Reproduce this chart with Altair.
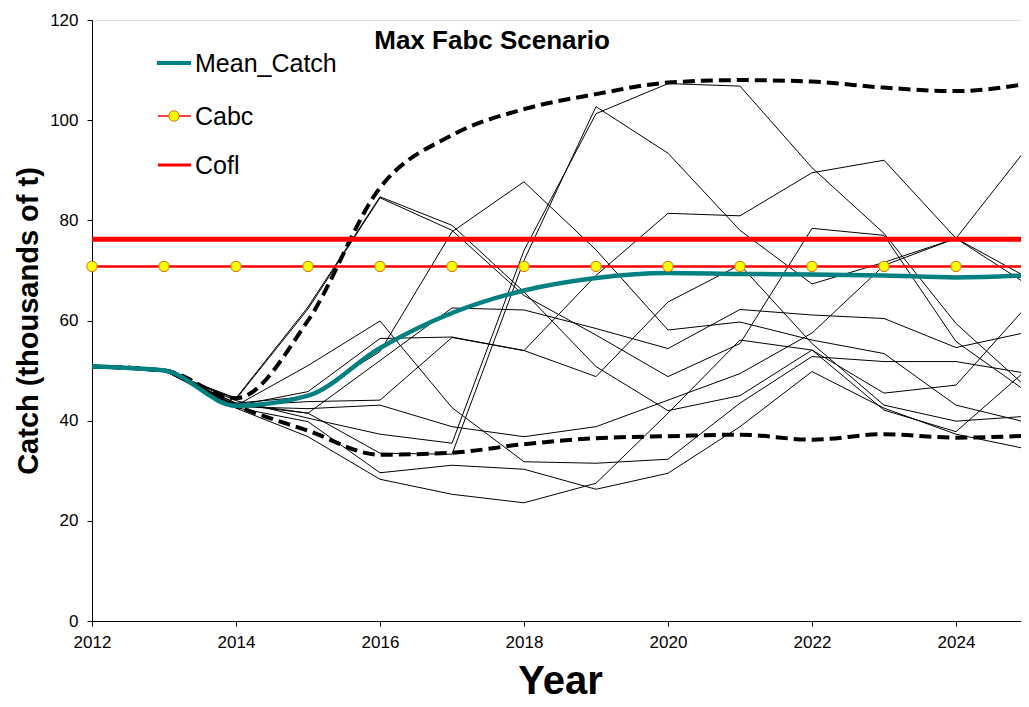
import altair as alt
import pandas as pd

# ---------------- data ----------------
years = list(range(2012, 2026))

traj_01 = [50.8, 50.0, 44.0, 40.5, 37.3, 35.5, 74.0, 101.3, 107.3, 106.8, 90.5, 77.4, 59.4, 46.4]
traj_02 = [50.8, 50.0, 43.5, 41.5, 33.5, 33.3, 72.0, 102.7, 93.4, 78.0, 67.3, 71.6, 76.4, 94.7]
traj_03 = [50.8, 50.0, 43.0, 45.8, 56.4, 56.7, 54.0, 69.0, 81.4, 80.9, 89.5, 92.0, 76.4, 68.5]
traj_04 = [50.8, 50.0, 43.5, 44.8, 53.8, 77.7, 87.7, 74.1, 58.1, 59.7, 56.1, 53.4, 43.1, 39.6]
traj_05 = [50.8, 50.0, 44.5, 62.7, 84.7, 79.0, 65.7, 50.8, 42.0, 45.0, 54.1, 45.5, 47.1, 63.1]
traj_06 = [50.8, 50.0, 44.3, 62.3, 84.5, 78.0, 65.0, 57.1, 48.8, 55.4, 78.4, 77.0, 55.8, 45.6]
traj_07 = [50.8, 50.0, 43.0, 51.0, 59.9, 42.6, 31.8, 31.5, 32.3, 43.5, 52.8, 51.8, 51.8, 49.4]
traj_08 = [50.8, 50.0, 43.0, 43.8, 44.1, 56.6, 54.0, 48.8, 63.7, 71.1, 55.4, 43.1, 39.9, 40.9]
traj_09 = [50.8, 50.0, 42.8, 42.4, 43.1, 38.8, 36.8, 38.8, 44.1, 49.4, 57.5, 71.0, 76.4, 67.1]
traj_10 = [50.8, 50.0, 42.6, 39.8, 29.6, 31.1, 30.3, 26.3, 29.5, 38.8, 49.8, 42.5, 37.3, 34.3]
traj_11 = [50.8, 50.0, 42.5, 36.8, 28.3, 25.3, 23.6, 27.5, 41.5, 56.1, 54.1, 42.1, 37.8, 50.4]
traj_12 = [50.8, 50.0, 43.2, 41.5, 52.0, 62.5, 62.1, 58.4, 54.4, 62.2, 61.1, 60.4, 54.6, 57.7]

mean_catch = [50.8, 50.0, 43.0, 45.0, 54.5, 61.5, 66.0, 68.5, 69.5, 69.3, 69.2, 69.0, 68.6, 69.0]
upper_bound = [50.8, 50.0, 44.5, 60.0, 86.5, 97.0, 102.2, 105.2, 107.5, 108.0, 107.7, 106.5, 105.8, 107.3]
lower_bound = [50.8, 50.0, 43.0, 38.0, 33.2, 33.6, 35.3, 36.5, 36.9, 37.2, 36.2, 37.3, 36.6, 37.0]

cabc_value = 70.8
cofl_value = 76.2

x_tick_values = [2012, 2014, 2016, 2018, 2020, 2022, 2024]
y_tick_values = [0, 20, 40, 60, 80, 100, 120]

legend_labels = ["Mean_Catch", "Cabc", "Cofl"]
chart_title = "Max Fabc Scenario"

# ---------------- tables ----------------
trajs = [traj_01, traj_02, traj_03, traj_04, traj_05, traj_06,
         traj_07, traj_08, traj_09, traj_10, traj_11, traj_12]
rows = []
for i, t in enumerate(trajs):
    for y, v in zip(years, t):
        rows.append({"year": y, "catch": v, "sim": f"s{i+1}"})
traj_df = pd.DataFrame(rows)

bounds_df = pd.DataFrame(
    [{"year": y, "catch": v, "which": "upper"} for y, v in zip(years, upper_bound)]
    + [{"year": y, "catch": v, "which": "lower"} for y, v in zip(years, lower_bound)]
)
mean_df = pd.DataFrame({"year": years, "catch": mean_catch})
ref_df = pd.DataFrame({"year": years,
                       "cabc": [cabc_value] * len(years),
                       "cofl": [cofl_value] * len(years)})

FONT = "Arial, Liberation Sans"

xscale = alt.Scale(domain=[2012, 2025], nice=False, zero=False)
yscale = alt.Scale(domain=[0, 120], nice=False)

xenc = alt.X("year:Q", scale=xscale,
             axis=alt.Axis(values=x_tick_values, format="d", title="Year",
                           titleFontSize=40, titleFontWeight="bold", titlePadding=11,
                           labelFontSize=17, labelPadding=8, tickSize=5,
                           grid=False, domainColor="black", tickColor="black",
                           labelColor="black", titleColor="black",
                           labelFont=FONT, titleFont=FONT, labelFlush=False))
yaxis = alt.Axis(values=y_tick_values, title="Catch (thousands of t)",
                 titleFontSize=29, titleFontWeight="bold", titlePadding=6,
                 labelFontSize=17, labelPadding=9, tickSize=5,
                 grid=False, domainColor="black", tickColor="black",
                 labelColor="black", titleColor="black",
                 labelFont=FONT, titleFont=FONT)

thin = alt.Chart(traj_df).mark_line(color="black", strokeWidth=1).encode(
    x=xenc,
    y=alt.Y("catch:Q", scale=yscale, axis=yaxis),
    detail="sim:N",
)

dashed = alt.Chart(bounds_df).mark_line(
    color="black", strokeWidth=4, strokeDash=[12, 6], interpolate="monotone"
).encode(x="year:Q", y="catch:Q", detail="which:N")

mean_line = alt.Chart(mean_df).mark_line(
    color="#008080", strokeWidth=4.5, interpolate="monotone"
).encode(x="year:Q", y="catch:Q")

cofl_line = alt.Chart(ref_df).mark_line(color="#ff0000", strokeWidth=5).encode(
    x="year:Q", y="cofl:Q")
cabc_line = alt.Chart(ref_df).mark_line(color="#ff0000", strokeWidth=2.5).encode(
    x="year:Q", y="cabc:Q")
cabc_pts = alt.Chart(ref_df).mark_point(
    shape="circle", filled=True, fill="#ffff00", stroke="#d2691e",
    strokeWidth=1, size=110, opacity=1
).encode(x="year:Q", y="cabc:Q")

# ---------------- legend (manual) ----------------
leg_mean = pd.DataFrame({"label": [legend_labels[0]]})
leg_cabc = pd.DataFrame({"label": [legend_labels[1]]})
leg_cofl = pd.DataFrame({"label": [legend_labels[2]]})

lg1 = alt.Chart(leg_mean).mark_rule(color="#008080", strokeWidth=4).encode(
    x=alt.value(65), x2=alt.value(99), y=alt.value(43))
lg2 = alt.Chart(leg_cabc).mark_rule(color="#ff0000", strokeWidth=1.5).encode(
    x=alt.value(66), x2=alt.value(99), y=alt.value(96))
lg2p = alt.Chart(leg_cabc).mark_point(
    shape="circle", filled=True, fill="#ffff00", stroke="#d2691e",
    strokeWidth=1, size=110, opacity=1).encode(x=alt.value(82), y=alt.value(96))
lg3 = alt.Chart(leg_cofl).mark_rule(color="#ff0000", strokeWidth=3).encode(
    x=alt.value(66), x2=alt.value(99), y=alt.value(145))

def leg_text(df, ypos):
    return alt.Chart(df).mark_text(
        align="left", baseline="middle", fontSize=25, font=FONT, color="black"
    ).encode(x=alt.value(103), y=alt.value(ypos), text="label:N")

lt1 = leg_text(leg_mean, 44)
lt2 = leg_text(leg_cabc, 97)
lt3 = leg_text(leg_cofl, 146)

title_df = pd.DataFrame({"label": [chart_title]})
title_txt = alt.Chart(title_df).mark_text(
    align="center", baseline="middle", fontSize=26, fontWeight="bold",
    font=FONT, color="black"
).encode(x=alt.value(400), y=alt.value(21), text="label:N")

chart = alt.layer(
    thin, dashed, mean_line, cofl_line, cabc_line, cabc_pts,
    lg1, lg2, lg2p, lg3, lt1, lt2, lt3, title_txt
).properties(
    width=936, height=601,
    autosize=alt.AutoSizeParams(type="none"),
    padding={"left": 84, "top": 12, "right": -7, "bottom": 80},
).configure_view(stroke="transparent").configure(background="white")

chart.save("out.html", embed_options={"renderer": "svg", "actions": False})
